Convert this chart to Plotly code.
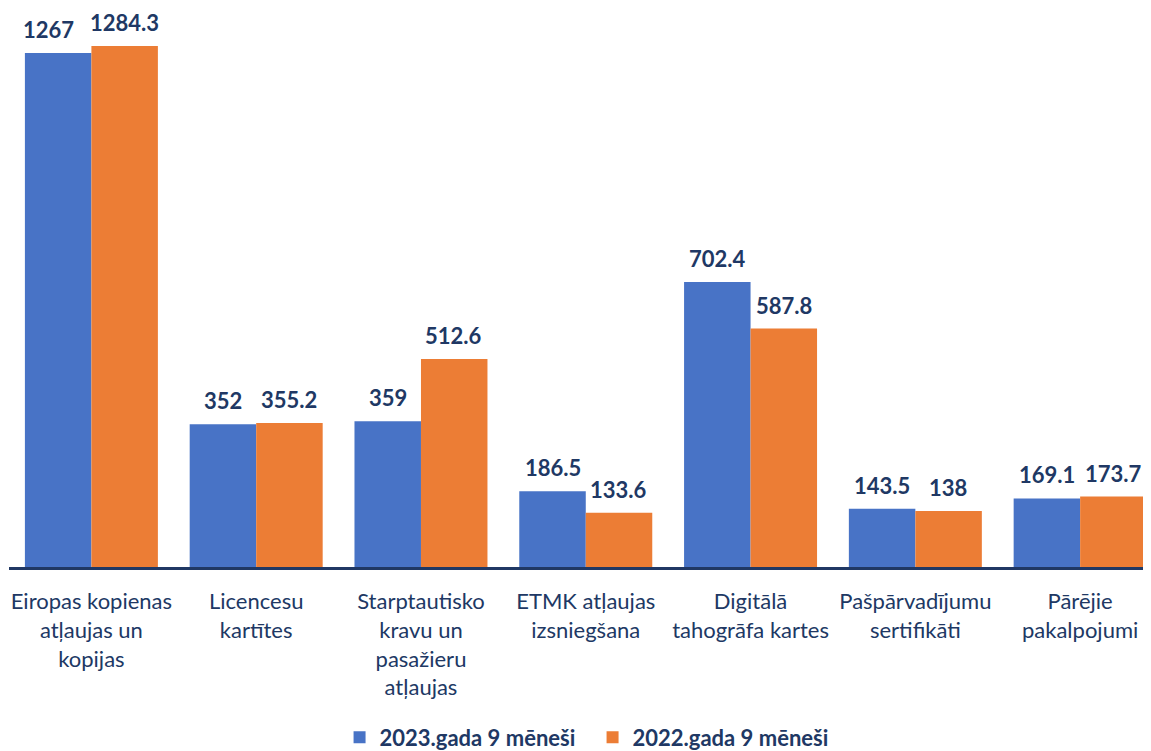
import plotly.graph_objects as go

categories = [
    "Eiropas kopienas<br>atļaujas un<br>kopijas",
    "Licencesu<br>kartītes",
    "Starptautisko<br>kravu un<br>pasažieru<br>atļaujas",
    "ETMK atļaujas<br>izsniegšana",
    "Digitālā<br>tahogrāfa kartes",
    "Pašpārvadījumu<br>sertifikāti",
    "Pārējie<br>pakalpojumi",
]
series_2023 = [1267, 352, 359, 186.5, 702.4, 143.5, 169.1]
series_2022 = [1284.3, 355.2, 512.6, 133.6, 587.8, 138, 173.7]
name_2023 = "2023.gada 9 mēneši"
name_2022 = "2022.gada 9 mēneši"

FONT = "Lato, 'Open Sans', sans-serif"
NAVY = "#203864"
BLUE = "#4873c6"
ORANGE = "#ec7d35"

fig = go.Figure()
fig.add_trace(go.Bar(x=list(range(len(categories))), y=series_2023, name=name_2023,
                     marker=dict(color=BLUE, line=dict(width=0))))
fig.add_trace(go.Bar(x=list(range(len(categories))), y=series_2022, name=name_2022,
                     marker=dict(color=ORANGE, line=dict(width=0))))

ann = []
for i, (a, b) in enumerate(zip(series_2023, series_2022)):
    # labels of nearly equal tall bars would collide; nudge the left one outward
    crowded = abs(a - b) < 40 and min(a, b) >= 1000
    for v, sh in ((a, -33 - (10 if crowded else 0)), (b, 33)):
        ann.append(dict(x=i, y=v, xref="x", yref="y", text=f"<b>{v:g}</b>", showarrow=False,
                        xshift=sh, yanchor="bottom", yshift=8,
                        font=dict(family=FONT, size=22, color=NAVY)))

fig.update_layout(
    width=1143, height=743,
    margin=dict(l=1, r=0, t=2, b=184, autoexpand=False),
    paper_bgcolor="white", plot_bgcolor="white",
    barmode="group", bargap=0.193, bargroupgap=0,
    font=dict(family=FONT, size=22, color=NAVY),
    annotations=ann,
    showlegend=True,
    legend=dict(orientation="h", x=0.511, xanchor="center", y=-0.306, yanchor="middle",
                font=dict(family=FONT, size=22, color=NAVY, weight="bold"),
                itemwidth=30, traceorder="normal",
                entrywidth=208, entrywidthmode="pixels"),
    xaxis=dict(tickmode="array", tickvals=list(range(len(categories))), ticktext=categories,
               range=[-0.5, 6.43], showline=True, linecolor=NAVY, linewidth=3,
               showgrid=False, zeroline=False, ticks="", ticklabelstandoff=13,
               automargin=False,
               tickfont=dict(family=FONT, size=22, color=NAVY)),
    yaxis=dict(range=[0, 1373], visible=False, showgrid=False, zeroline=False, automargin=False),
)

fig.write_html("out.html")
